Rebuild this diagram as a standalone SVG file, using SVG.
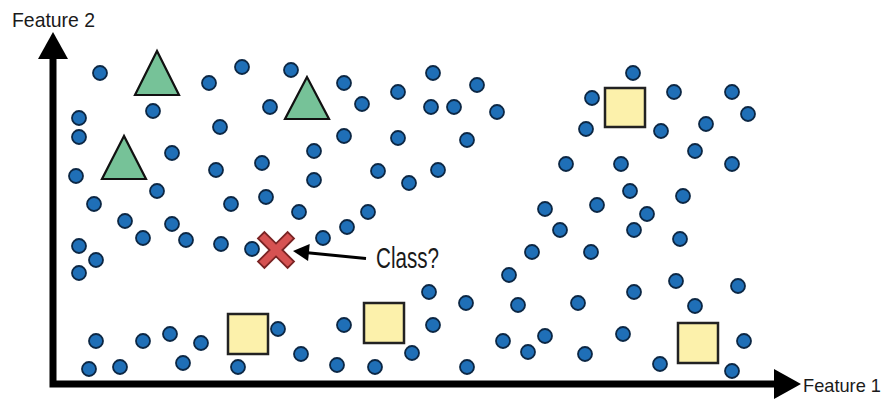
<svg xmlns="http://www.w3.org/2000/svg" width="885" height="400" viewBox="0 0 885 400">
<defs>
<style>
.dot{fill:#1f6fb7;stroke:#0c2744;stroke-width:1.8}
.tri{fill:#76c298;stroke:#111;stroke-width:2.2;stroke-linejoin:miter}
.sq{fill:#fcf1ab;stroke:#222;stroke-width:2.5}
.lbl{font-family:"Liberation Sans",Arial,sans-serif;fill:#1a1a1a}
.axis{stroke:#000;stroke-width:7;fill:none}
</style>
<symbol id="d" overflow="visible"><circle class="dot" cx="0" cy="0" r="7"/></symbol>
</defs>
<rect width="885" height="400" fill="#fff"/>
<g id="axes">
<path class="axis" d="M53,55 V384 H776"/>
<polygon points="53,32 38,59 68,59" fill="#000"/>
<polygon points="801,384 774,369 774,399" fill="#000"/>
</g>
<text class="lbl" x="12" y="27" font-size="21" textLength="83" lengthAdjust="spacingAndGlyphs">Feature 2</text>
<text class="lbl" x="803" y="392" font-size="19" textLength="78" lengthAdjust="spacingAndGlyphs">Feature 1</text>
<g id="dots">
<use href="#d" x="100" y="73"/><use href="#d" x="242" y="67"/><use href="#d" x="291" y="70"/><use href="#d" x="209" y="83"/>
<use href="#d" x="153" y="111"/><use href="#d" x="270" y="107"/><use href="#d" x="79" y="118"/><use href="#d" x="79" y="137"/>
<use href="#d" x="220" y="127"/><use href="#d" x="172" y="153"/><use href="#d" x="262" y="163"/><use href="#d" x="76" y="176"/>
<use href="#d" x="216" y="170"/><use href="#d" x="157" y="191"/><use href="#d" x="266" y="197"/><use href="#d" x="94" y="204"/>
<use href="#d" x="231" y="204"/>
<use href="#d" x="344" y="83"/><use href="#d" x="433" y="73"/><use href="#d" x="477" y="85"/><use href="#d" x="398" y="92"/>
<use href="#d" x="362" y="104"/><use href="#d" x="431" y="107"/><use href="#d" x="454" y="107"/><use href="#d" x="497" y="112"/>
<use href="#d" x="344" y="136"/><use href="#d" x="398" y="138"/><use href="#d" x="467" y="140"/><use href="#d" x="314" y="151"/>
<use href="#d" x="314" y="180"/><use href="#d" x="378" y="171"/><use href="#d" x="438" y="170"/><use href="#d" x="409" y="183"/>
<use href="#d" x="566" y="164"/>
<use href="#d" x="633" y="73"/><use href="#d" x="592" y="98"/><use href="#d" x="674" y="92"/><use href="#d" x="732" y="92"/>
<use href="#d" x="748" y="114"/><use href="#d" x="586" y="129"/><use href="#d" x="661" y="131"/><use href="#d" x="706" y="124"/>
<use href="#d" x="695" y="151"/><use href="#d" x="621" y="164"/><use href="#d" x="732" y="164"/><use href="#d" x="630" y="191"/>
<use href="#d" x="683" y="196"/>
<use href="#d" x="125" y="221"/><use href="#d" x="172" y="224"/><use href="#d" x="143" y="238"/><use href="#d" x="186" y="240"/>
<use href="#d" x="221" y="244"/><use href="#d" x="252" y="249"/><use href="#d" x="79" y="246"/><use href="#d" x="96" y="260"/>
<use href="#d" x="79" y="273"/><use href="#d" x="299" y="212"/>
<use href="#d" x="368" y="212"/><use href="#d" x="347" y="227"/><use href="#d" x="323" y="238"/><use href="#d" x="545" y="209"/>
<use href="#d" x="560" y="230"/><use href="#d" x="532" y="252"/><use href="#d" x="509" y="275"/>
<use href="#d" x="597" y="205"/><use href="#d" x="647" y="214"/><use href="#d" x="634" y="230"/><use href="#d" x="680" y="239"/>
<use href="#d" x="591" y="252"/><use href="#d" x="676" y="281"/><use href="#d" x="738" y="286"/><use href="#d" x="634" y="292"/>
<use href="#d" x="695" y="306"/>
<use href="#d" x="429" y="292"/><use href="#d" x="466" y="303"/><use href="#d" x="518" y="305"/><use href="#d" x="578" y="303"/>
<use href="#d" x="344" y="325"/><use href="#d" x="433" y="325"/><use href="#d" x="503" y="341"/><use href="#d" x="545" y="336"/>
<use href="#d" x="528" y="352"/><use href="#d" x="585" y="354"/><use href="#d" x="301" y="354"/><use href="#d" x="337" y="365"/>
<use href="#d" x="375" y="367"/><use href="#d" x="412" y="353"/><use href="#d" x="467" y="367"/>
<use href="#d" x="623" y="334"/><use href="#d" x="744" y="341"/><use href="#d" x="660" y="364"/><use href="#d" x="732" y="371"/>
<use href="#d" x="96" y="341"/><use href="#d" x="143" y="341"/><use href="#d" x="170" y="334"/><use href="#d" x="201" y="343"/>
<use href="#d" x="278" y="329"/><use href="#d" x="89" y="369"/><use href="#d" x="120" y="367"/><use href="#d" x="183" y="363"/>
<use href="#d" x="238" y="367"/>
</g>
<g id="triangle1"><polygon class="tri" points="157,51 135,95 179,95"/></g>
<g id="triangle2"><polygon class="tri" points="124,136 102,179 146,179"/></g>
<g id="triangle3"><polygon class="tri" points="307,77 285,119 329,119"/></g>
<g id="square1"><rect class="sq" x="605" y="88" width="40" height="39"/></g>
<g id="square2"><rect class="sq" x="228" y="314" width="40" height="40"/></g>
<g id="square3"><rect class="sq" x="364" y="303" width="40" height="40"/></g>
<g id="square4"><rect class="sq" x="678" y="323" width="40" height="40"/></g>
<g id="query">
<polygon transform="translate(276,250)" fill="#d65252" stroke="#7a2424" stroke-width="1.8" stroke-linejoin="miter" points="-18,-11.6 -11.6,-18 0,-6.4 11.6,-18 18,-11.6 6.4,0 18,11.6 11.6,18 0,6.4 -11.6,18 -18,11.6 -6.4,0"/>
</g>
<g id="connectors">
<line x1="366" y1="258.5" x2="305" y2="252.5" stroke="#000" stroke-width="3"/>
<polygon points="293,251 309.7,244 308.1,261" fill="#000"/>
</g>
<text class="lbl" x="376" y="268" font-size="30" textLength="63" lengthAdjust="spacingAndGlyphs">Class?</text>
</svg>
